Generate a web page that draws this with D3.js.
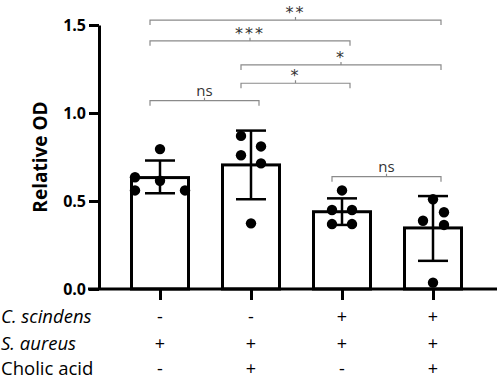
<!DOCTYPE html>
<html>
<head>
<meta charset="utf-8">
<script src="https://cdn.jsdelivr.net/npm/d3@7"></script>
<style>
  body { margin: 0; background: #fff; }
  svg { font-family: "Open Sans", sans-serif; }
</style>
</head>
<body>
<svg id="chart" width="498" height="379"></svg>
<script>
// groups (one per bar)
const groups = ["g1", "g2", "g3", "g4"];
const means = [0.633, 0.705, 0.439, 0.347];
const upper = [0.73, 0.90, 0.515, 0.528];
const lower = [0.544, 0.51, 0.364, 0.16];

// individual points per group: [value, jitter slot]
const points = [
  [[0.795, 0], [0.635, -2.5], [0.615, 0], [0.56, -2.5], [0.56, 2.5]],
  [[0.87, -1], [0.81, 1], [0.76, -1], [0.714, 1], [0.373, 0]],
  [[0.56, 0], [0.449, -1], [0.449, 1], [0.369, -1], [0.369, 1]],
  [[0.51, 0], [0.436, 1.1], [0.388, -1], [0.364, 1.1], [0.036, 0]]
];

// y axis ticks
const yTicks = [0, 0.5, 1.0, 1.5];

// condition table below the axis
const rowLabels = ["C. scindens", "S. aureus", "Cholic acid"];
const rowItalic = [true, true, false];
const rowSigns = [
  ["-", "-", "+", "+"],
  ["+", "+", "+", "+"],
  ["-", "+", "-", "+"]
];

// significance brackets: from group, to group, level, label
const brackets = [
  ["g1", "g4", 1.528, "**"],
  ["g1", "g3", 1.41, "***"],
  ["g2", "g4", 1.273, "*"],
  ["g2", "g3", 1.169, "*"],
  ["g1", "g2", 1.07, "ns"],
  ["g3", "g4", 0.638, "ns"]
];

const svg = d3.select("#chart");

const x = d3.scalePoint().domain(groups).range([160, 433]);
const y = d3.scaleLinear().domain([0, 1.5]).range([289, 25]);
const barW = 57;

// y axis
const yAxis = svg.append("g")
  .attr("transform", "translate(99,0)")
  .call(d3.axisLeft(y).tickValues(yTicks).tickFormat(d3.format(".1f"))
    .tickSize(10).tickSizeOuter(0).tickPadding(3));
yAxis.select(".domain").attr("stroke-width", 3);
yAxis.selectAll(".tick line").attr("stroke-width", 3);
yAxis.selectAll(".tick text")
  .attr("font-size", 16).attr("font-weight", "bold").attr("fill", "#000")
  .attr("font-family", "'Open Sans', sans-serif");

// bars
const g = svg.append("g");
groups.forEach((k, i) => {
  g.append("rect")
    .attr("x", x(k) - barW / 2)
    .attr("y", y(means[i]))
    .attr("width", barW)
    .attr("height", y(0) - y(means[i]))
    .attr("fill", "#fff")
    .attr("stroke", "#000")
    .attr("stroke-width", 3);

  // error bar
  const cx = x(k);
  g.append("line")
    .attr("x1", cx).attr("x2", cx)
    .attr("y1", y(upper[i])).attr("y2", y(lower[i]))
    .attr("stroke", "#000").attr("stroke-width", 2.5);
  [upper[i], lower[i]].forEach(v => {
    g.append("line")
      .attr("x1", cx - 15).attr("x2", cx + 15)
      .attr("y1", y(v)).attr("y2", y(v))
      .attr("stroke", "#000").attr("stroke-width", 2.5);
  });

  // dots
  g.selectAll(null)
    .data(points[i])
    .enter()
    .append("circle")
    .attr("cx", d => cx + d[1] * 10)
    .attr("cy", d => y(d[0]))
    .attr("r", 5.2)
    .attr("fill", "#000");
});

// x axis
const xAxis = svg.append("g")
  .attr("transform", `translate(0,${y(0)})`)
  .call(d3.axisBottom(x).tickSize(11).tickSizeOuter(0).tickFormat(""));
xAxis.select(".domain").attr("d", "M88,0H497").attr("stroke-width", 3);
xAxis.selectAll(".tick line").attr("stroke-width", 3);

// condition table
const rowY = [317, 344, 369];
rowLabels.forEach((lab, r) => {
  svg.append("text")
    .attr("x", 1)
    .attr("y", rowY[r])
    .attr("dy", "0.35em")
    .attr("font-size", 18.5)
    .attr("font-style", rowItalic[r] ? "italic" : "normal")
    .text(lab);
  groups.forEach((k, i) => {
    svg.append("text")
      .attr("x", x(k))
      .attr("y", rowY[r])
      .attr("dy", "0.35em")
      .attr("text-anchor", "middle")
      .attr("font-size", 18)
      .text(rowSigns[r][i]);
  });
});

// y label
svg.append("text")
  .attr("transform", "translate(40,157) rotate(-90)")
  .attr("text-anchor", "middle")
  .attr("dy", "0.35em")
  .attr("font-size", 19)
  .attr("font-weight", "bold")
  .text("Relative OD");

// significance brackets
brackets.forEach(([a, b, lvl, lab]) => {
  const x1 = x(a) - 10, x2 = x(b) + 8, by = y(lvl);
  const isNs = lab === "ns";
  svg.append("path")
    .attr("d", `M${x1},${by + 5}V${by}H${x2}V${by + 5}M${(x1 + x2) / 2},${by}V${by - 3}`)
    .attr("fill", "none")
    .attr("stroke", "#8a8a8a")
    .attr("stroke-width", 1.2);
  svg.append("text")
    .attr("x", (x1 + x2) / 2)
    .attr("y", by - (isNs ? 5 : 2))
    .attr("text-anchor", "middle")
    .attr("font-size", isNs ? 15 : 16)
    .attr("font-family", isNs ? "'Open Sans', sans-serif" : "'DejaVu Sans', sans-serif")
    .attr("letter-spacing", isNs ? 0 : 2)
    .attr("fill", "#333")
    .text(lab);
});
</script>
</body>
</html>
